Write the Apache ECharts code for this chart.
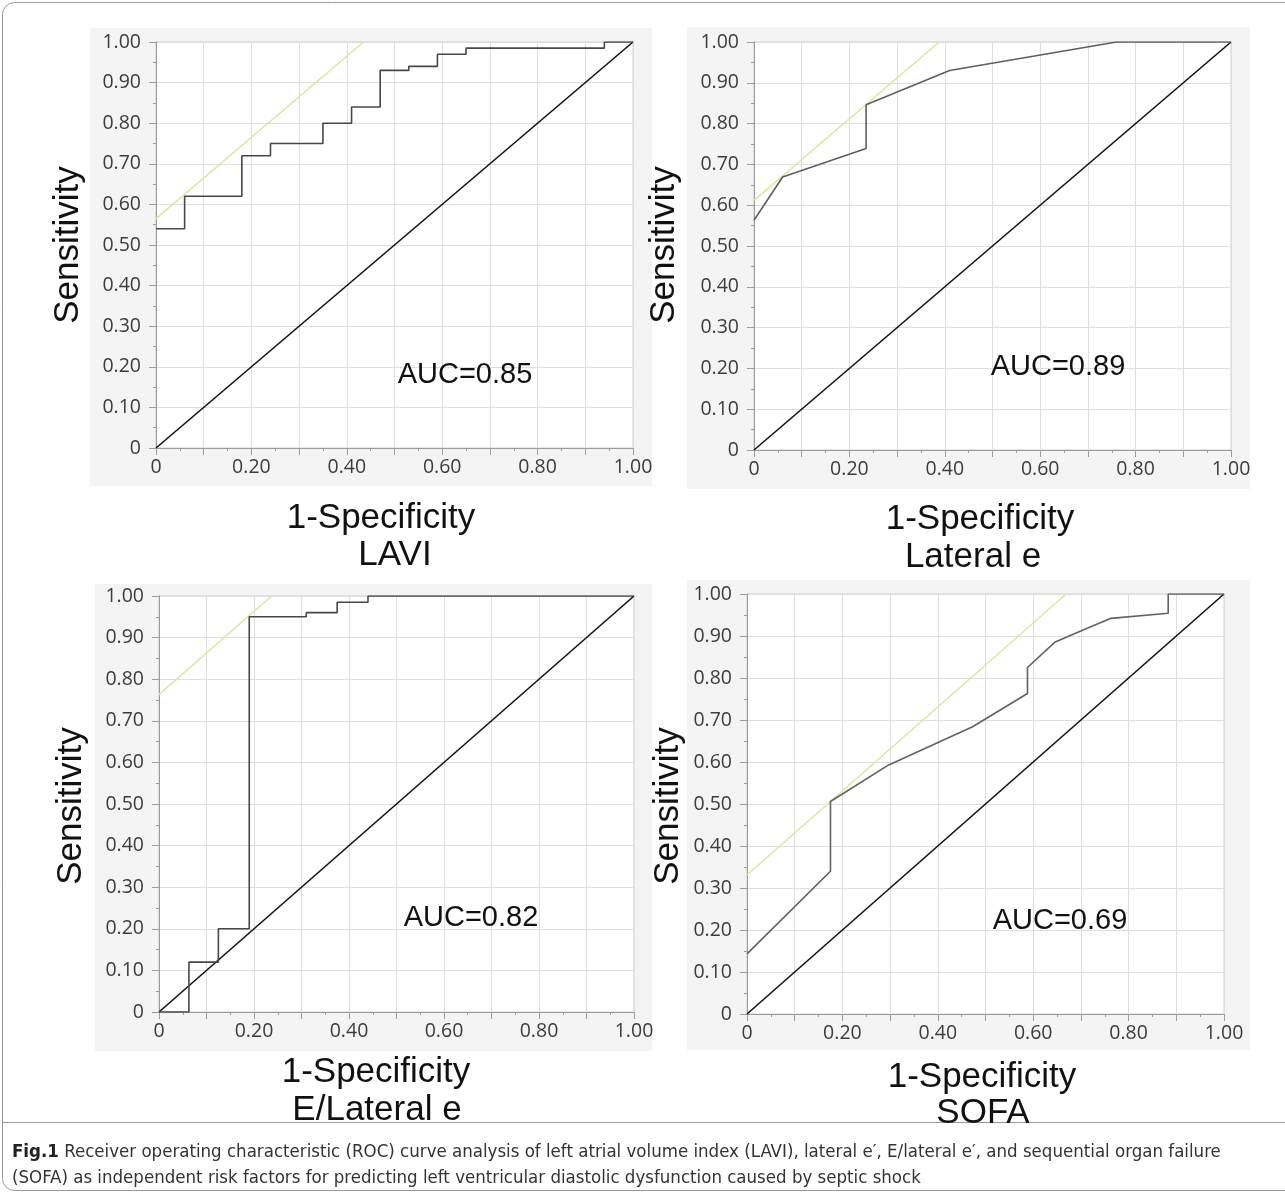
<!DOCTYPE html>
<html>
<head>
<meta charset="utf-8">
<script src="https://cdn.jsdelivr.net/npm/echarts@6/dist/echarts.min.js"></script>
<style>
html,body{margin:0;padding:0;background:#fff;}
#chart{width:1285px;height:1196px;}
</style>
</head>
<body>
<div id="chart"></div>
<script>
// ---------- DATA ----------
const xTickLabels = ['0','0.20','0.40','0.60','0.80','1.00'];
const yTickLabels = ['0','0.10','0.20','0.30','0.40','0.50','0.60','0.70','0.80','0.90','1.00'];

const panelNames = ['LAVI','Lateral e','E/Lateral e','SOFA'];
const aucLabels = ['AUC=0.85','AUC=0.89','AUC=0.82','AUC=0.69'];

// LAVI ROC (step curve)
const laviFpr = [0, 0.06, 0.06, 0.18, 0.18, 0.24, 0.24, 0.35, 0.35, 0.41, 0.41, 0.47, 0.47, 0.53, 0.53, 0.59, 0.59, 0.65, 0.65, 0.94, 0.94, 1.00];
const laviTpr = [0.54, 0.54, 0.62, 0.62, 0.72, 0.72, 0.75, 0.75, 0.80, 0.80, 0.84, 0.84, 0.93, 0.93, 0.94, 0.94, 0.97, 0.97, 0.985, 0.985, 1.00, 1.00];
const laviTanX = [0, 0.435];
const laviTanY = [0.565, 1.00];

// Lateral e ROC
const latFpr = [0, 0.06, 0.235, 0.235, 0.41, 0.76, 1.00];
const latTpr = [0.563, 0.669, 0.739, 0.846, 0.930, 1.00, 1.00];
const latTanX = [0, 0.388];
const latTanY = [0.612, 1.00];

// E/Lateral e ROC (step curve)
const eFpr = [0, 0.063, 0.063, 0.125, 0.125, 0.19, 0.19, 0.31, 0.31, 0.375, 0.375, 0.44, 0.44, 1.00];
const eTpr = [0, 0, 0.12, 0.12, 0.20, 0.20, 0.95, 0.95, 0.96, 0.96, 0.985, 0.985, 1.00, 1.00];
const eTanX = [0, 0.237];
const eTanY = [0.763, 1.00];

// SOFA ROC
const sofaFpr = [0, 0.175, 0.175, 0.297, 0.473, 0.588, 0.588, 0.645, 0.696, 0.763, 0.883, 0.883, 1.00];
const sofaTpr = [0.143, 0.340, 0.506, 0.593, 0.684, 0.763, 0.825, 0.885, 0.910, 0.942, 0.954, 1.00, 1.00];
const sofaTanX = [0, 0.669];
const sofaTanY = [0.331, 1.00];

// reference diagonal
const diagX = [0, 1];
const diagY = [0, 1];

const caption1 = ' Receiver operating characteristic (ROC) curve analysis of left atrial volume index (LAVI), lateral e\u2032, E/lateral e\u2032, and sequential organ failure';
const caption2 = '(SOFA) as independent risk factors for predicting left ventricular diastolic dysfunction caused by septic shock';

// ---------- BUILD ----------
const zip = (xs, ys) => xs.map((x, i) => [x, ys[i]]);

const curves = [
  {fpr: laviFpr, tpr: laviTpr, tx: laviTanX, ty: laviTanY, color: '#474747'},
  {fpr: latFpr, tpr: latTpr, tx: latTanX, ty: latTanY, color: '#5e5e5e'},
  {fpr: eFpr, tpr: eTpr, tx: eTanX, ty: eTanY, color: '#474747'},
  {fpr: sofaFpr, tpr: sofaTpr, tx: sofaTanX, ty: sofaTanY, color: '#626262'}
];

// layout (pixels)
const grids = [
  {left: 156, top: 42, width: 477, height: 406},
  {left: 754, top: 42, width: 477, height: 408},
  {left: 159, top: 596, width: 475, height: 416},
  {left: 747, top: 594, width: 477, height: 420}
];
const panelBg = [
  {x: 90, y: 28, w: 562, h: 458},
  {x: 687, y: 27, w: 563, h: 462},
  {x: 95, y: 584, w: 557, h: 467},
  {x: 687, y: 580, w: 563, h: 470}
];
const ylabPos = [[68, 245], [664, 245], [71, 806], [668, 806]];
const xlabPos = [[381, 518, 395, 555], [980, 519, 973, 557], [376, 1072, 377, 1110], [982, 1077, 983, 1113]];
const aucPos = [[465, 375], [1058, 367], [471, 918], [1060, 921]];

const tickFont = {fontFamily: 'Open Sans', fontSize: 19.5, color: '#3c3c3c'};

const xAxes = [], yAxes = [], series = [], graphics = [];

// figure frame
graphics.push({type: 'rect', shape: {x: 2.5, y: 2.5, width: 1320, height: 1188, r: 12}, style: {fill: 'none', stroke: '#9a9a9a', lineWidth: 1}, z: -10});
graphics.push({type: 'line', shape: {x1: 2.5, y1: 1122.5, x2: 1285, y2: 1122.5}, style: {stroke: '#9a9a9a', lineWidth: 1}, z: -10});

grids.forEach((g, i) => {
  const b = panelBg[i];
  graphics.push({type: 'rect', shape: {x: b.x, y: b.y, width: b.w, height: b.h}, style: {fill: '#f4f4f4'}, z: -5});

  xAxes.push({
    type: 'value', gridIndex: i, min: 0, max: 1, interval: 0.1,
    axisLine: {show: true, lineStyle: {color: '#9c9c9c'}},
    axisTick: {show: true, length: 7, lineStyle: {color: '#9c9c9c'}},
    minorTick: {show: true, splitNumber: 2, length: 3, lineStyle: {color: '#9c9c9c'}},
    splitLine: {show: true, lineStyle: {color: '#dedede'}},
    axisLabel: Object.assign({margin: 9, formatter: v => { const k = Math.round(v * 10); return k % 2 === 0 ? xTickLabels[k / 2] : ''; }}, tickFont)
  });
  yAxes.push({
    type: 'value', gridIndex: i, min: 0, max: 1, interval: 0.1,
    axisLine: {show: true, lineStyle: {color: '#9c9c9c'}},
    axisTick: {show: true, length: 7, lineStyle: {color: '#9c9c9c'}},
    minorTick: {show: true, splitNumber: 2, length: 3, lineStyle: {color: '#9c9c9c'}},
    splitLine: {show: true, lineStyle: {color: '#dedede'}},
    axisLabel: Object.assign({margin: 15, formatter: v => yTickLabels[Math.round(v * 10)]}, tickFont)
  });

  const c = curves[i];
  series.push({type: 'line', xAxisIndex: i, yAxisIndex: i, data: zip(diagX, diagY), symbol: 'none', silent: true,
    lineStyle: {color: '#111', width: 1.6}, z: 3});
  series.push({type: 'line', xAxisIndex: i, yAxisIndex: i, data: zip(c.tx, c.ty), symbol: 'none', silent: true,
    lineStyle: {color: '#dfe6a2', width: 1.6}, z: 2});
  series.push({type: 'line', xAxisIndex: i, yAxisIndex: i, data: zip(c.fpr, c.tpr), symbol: 'none', silent: true,
    lineStyle: {color: c.color, width: 1.6}, z: 4});

  graphics.push({type: 'text', x: ylabPos[i][0], y: ylabPos[i][1], rotation: Math.PI / 2,
    style: {text: 'Sensitivity', font: '35px "Liberation Sans", Arial, sans-serif', fill: '#111', textAlign: 'center', textVerticalAlign: 'middle'}});
  graphics.push({type: 'text', x: xlabPos[i][0], y: xlabPos[i][1],
    style: {text: '1-Specificity', font: '35px "Liberation Sans", Arial, sans-serif', fill: '#111', textAlign: 'center', textVerticalAlign: 'middle'}});
  graphics.push({type: 'text', x: xlabPos[i][2], y: xlabPos[i][3],
    style: {text: panelNames[i], font: '35px "Liberation Sans", Arial, sans-serif', fill: '#111', textAlign: 'center', textVerticalAlign: 'middle'}});
  graphics.push({type: 'text', x: aucPos[i][0], y: aucPos[i][1], z: 10,
    style: {text: aucLabels[i], font: '29px "Liberation Sans", Arial, sans-serif', fill: '#111', textAlign: 'center', textVerticalAlign: 'middle'}});
});

graphics.push({type: 'text', x: 12, y: 1152,
  style: {text: '{b|Fig.1}' + caption1, rich: {b: {fontWeight: 'bold', fontFamily: 'DejaVu Sans Condensed', fontSize: 18.5, fill: '#222'}},
    fontFamily: 'DejaVu Sans Condensed', fontSize: 18.5, fill: '#333', textVerticalAlign: 'middle'}});
graphics.push({type: 'text', x: 12, y: 1178,
  style: {text: caption2, fontFamily: 'DejaVu Sans Condensed', fontSize: 18.5, fill: '#333', textVerticalAlign: 'middle'}});

const chart = echarts.init(document.getElementById('chart'), null, {renderer: 'canvas'});
chart.setOption({
  animation: false,
  backgroundColor: '#ffffff',
  grid: grids.map(g => Object.assign({show: true, backgroundColor: '#ffffff', borderColor: '#cfcfcf', borderWidth: 1, containLabel: false}, g)),
  xAxis: xAxes,
  yAxis: yAxes,
  series: series,
  graphic: graphics
});
</script>
</body>
</html>
